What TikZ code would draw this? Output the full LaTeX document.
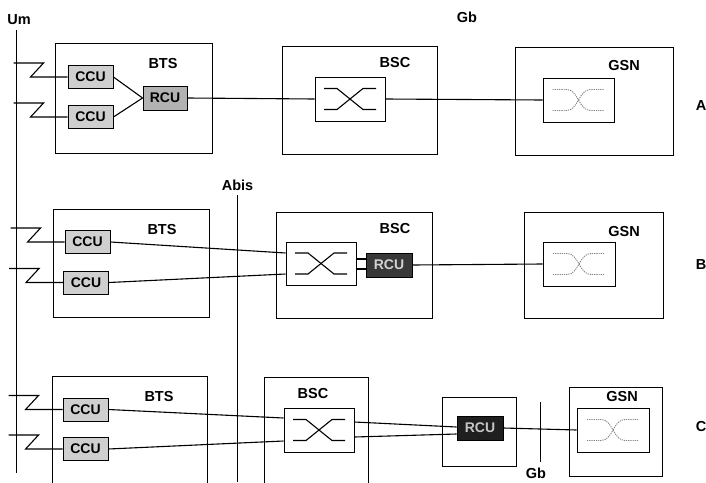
\documentclass[tikz,border=0pt]{standalone}
\usepackage{fontspec}
\setmainfont{Liberation Sans}
\tikzset{
  box/.style={draw, line width=1pt, inner sep=0pt},
  wire/.style={line width=1.1pt},
  iface/.style={line width=0.8pt},
  unitbox/.style={draw, line width=0.9pt, inner sep=0pt, font=\bfseries\fontsize{14}{14}\selectfont},
  ccu/.style={unitbox, fill=gray!38, minimum width=45pt, minimum height=23pt},
  rcua/.style={unitbox, fill=gray!60, minimum width=44pt, minimum height=24pt},
  rcub/.style={unitbox, fill=black!78, text=gray!35, minimum width=46pt, minimum height=24pt},
  rcuc/.style={unitbox, fill=black!88, text=gray!45, minimum width=46pt, minimum height=24pt},
  lbl/.style={inner sep=0pt, font=\bfseries\fontsize{14.5}{16}\selectfont},
  swline/.style={line width=1.1pt},
  gsnline/.style={line width=0.9pt, gray, dash pattern=on 1.2pt off 1pt},
}
\newcommand\xswitch[1]{%
  \begin{scope}[shift={(#1.center)}]
    \draw[swline] (-26,-10.5) -- (-13,-10.5) -- (13,10.5) -- (26,10.5);
    \draw[swline] (-26,10.5) -- (-13,10.5) -- (13,-10.5) -- (26,-10.5);
  \end{scope}}
\newcommand\gswitch[1]{%
  \begin{scope}[shift={(#1.center)}]
    \draw[gsnline] (-26,-10.5) -- (-12,-10.5) .. controls (0,-10.5) and (0,10.5) .. (12,10.5) -- (26,10.5);
    \draw[gsnline] (-26,10.5) -- (-12,10.5) .. controls (0,10.5) and (0,-10.5) .. (12,-10.5) -- (26,-10.5);
  \end{scope}}
\newcommand\zigzagline[1]{\draw[wire] (#1.west) -- ++(-37,0) -- ++(13,-14) -- ++(-30,0);}
\begin{document}
\begin{tikzpicture}[x=1pt,y=-1pt]
\useasboundingbox (0,0) rectangle (706,482);
\clip (0,0) rectangle (706,482);

% interface lines
\coordinate (umT) at (16,30);
\coordinate (umB) at (16,473);
\draw[iface] (umT) -- (umB);
\coordinate (abT) at (237,195);
\coordinate (abB) at (237,482);
\draw[iface] (abT) -- (abB);
\coordinate (gbT) at (540,402);
\coordinate (gbB) at (540,462);
\draw[iface] (gbT) -- (gbB);

\node[lbl] (um) at (19,20) {Um};
\node[lbl] (gbtop) at (467,17) {Gb};
\node[lbl] (abis) at (237.5,185) {Abis};
\node[lbl] (gbbot) at (536,473) {Gb};
\node[lbl] (la) at (701,106) {A};
\node[lbl] (lb) at (701,265) {B};
\node[lbl] (lc) at (701,427) {C};

% ---------------- Row A
\node[box, minimum width=157pt, minimum height=110pt] (btsA) at (133.5,98) {};
\node[lbl] (btsAl) at (163,64) {BTS};
\node[ccu] (ccuA1) at (90.5,77) {CCU};
\node[ccu] (ccuA2) at (90.5,117) {CCU};
\node[rcua] (rcuA) at (165,98) {RCU};
\node[box, minimum width=155pt, minimum height=108pt] (bscA) at (359.5,100) {};
\node[lbl] (bscAl) at (395,63) {BSC};
\node[box, minimum width=70pt, minimum height=44pt] (swA) at (350,99) {};
\node[box, minimum width=158pt, minimum height=108pt] (gsnA) at (594,101) {};
\node[lbl] (gsnAl) at (624,66) {GSN};
\node[box, minimum width=71pt, minimum height=44pt] (gswA) at (578.5,100) {};
\xswitch{swA}
\gswitch{gswA}
\zigzagline{ccuA1}
\zigzagline{ccuA2}
\draw[wire] (ccuA1.east) -- (rcuA.west);
\draw[wire] (ccuA2.east) -- (rcuA.west);
\draw[wire] (rcuA.east) -- (swA.west);
\draw[wire] (swA.east) -- (gswA.west);

% ---------------- Row B
\node[box, minimum width=156pt, minimum height=108pt] (btsB) at (131,263) {};
\node[lbl] (btsBl) at (162,230) {BTS};
\node[ccu] (ccuB1) at (87.5,242) {CCU};
\node[ccu] (ccuB2) at (86,282.5) {CCU};
\node[box, minimum width=156pt, minimum height=106pt] (bscB) at (354,265) {};
\node[lbl] (bscBl) at (395,229) {BSC};
\node[box, minimum width=70pt, minimum height=43pt] (swB) at (321,263.5) {};
\node[rcub] (rcuB) at (389,265) {RCU};
\node[box, minimum width=139pt, minimum height=106pt] (gsnB) at (593.5,265) {};
\node[lbl] (gsnBl) at (624,232) {GSN};
\node[box, minimum width=72pt, minimum height=44pt] (gswB) at (579,264) {};
\xswitch{swB}
\gswitch{gswB}
\zigzagline{ccuB1}
\zigzagline{ccuB2}
\draw[wire] (ccuB1.east) -- ([yshift=10.5pt]swB.west);
\draw[wire] (ccuB2.east) -- ([yshift=-10.5pt]swB.west);
\draw[wire] ([yshift=4.5pt]swB.east) -- ([yshift=4.5pt]swB.east -| rcuB.west);
\draw[wire] ([yshift=-5.5pt]swB.east) -- ([yshift=-5.5pt]swB.east -| rcuB.west);
\draw[wire] (rcuB.east) -- (gswB.west);

% ---------------- Row C
\node[box, minimum width=155pt, minimum height=130pt] (btsC) at (129.5,441) {};
\node[lbl] (btsCl) at (159,397) {BTS};
\node[ccu] (ccuC1) at (85.5,409.5) {CCU};
\node[ccu] (ccuC2) at (85.5,449) {CCU};
\node[box, minimum width=104pt, minimum height=130pt] (bscC) at (316,442) {};
\node[lbl] (bscCl) at (313,394) {BSC};
\node[box, minimum width=70pt, minimum height=44pt] (swC) at (319,430) {};
\node[box, minimum width=74pt, minimum height=69pt] (rbox) at (479,431.5) {};
\node[rcuc] (rcuC) at (480,428) {RCU};
\node[box, minimum width=93pt, minimum height=89pt] (gsnC) at (615.5,431.5) {};
\node[lbl] (gsnCl) at (622,397) {GSN};
\node[box, minimum width=72pt, minimum height=44pt] (gswC) at (613,430) {};
\xswitch{swC}
\gswitch{gswC}
\zigzagline{ccuC1}
\zigzagline{ccuC2}
\draw[wire] (ccuC1.east) -- ([yshift=12pt]swC.west);
\draw[wire] (ccuC2.east) -- ([yshift=-11pt]swC.west);
\draw[wire] ([yshift=8pt]swC.east) -- ([yshift=1pt]rcuC.west);
\draw[wire] ([yshift=-7pt]swC.east) -- ([yshift=-6pt]rcuC.west);
\draw[wire] (rcuC.east) -- (gswC.west);
\end{tikzpicture}
\end{document}
